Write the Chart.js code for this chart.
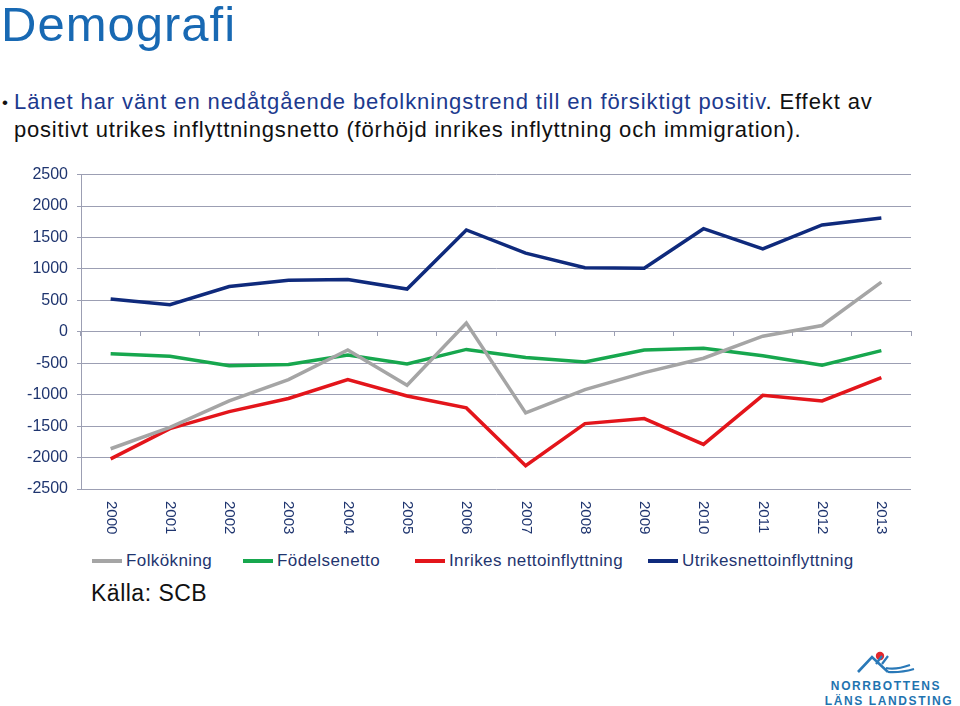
<!DOCTYPE html>
<html>
<head>
<meta charset="utf-8">
<script src="https://cdn.jsdelivr.net/npm/chart.js@4/dist/chart.umd.min.js"></script>
<style>
  html, body { margin: 0; padding: 0; background: #fff; }
  body { width: 960px; height: 706px; position: relative; overflow: hidden; font-family: Arial, "Liberation Sans", sans-serif; }
  #title { position: absolute; left: 1px; top: -4px; font-size: 49px; color: #1869b3; letter-spacing: 1px; }
  .bullet { position: absolute; left: 14px; font-size: 22px; line-height: 26px; letter-spacing: 0.8px; color: #111; white-space: nowrap; }
  .blue { color: #1c3a8e; }
  #dot { position: absolute; left: 2px; top: 93px; font-size: 17px; color: #111; }
  #chartBox { position: absolute; left: 0; top: 156px; width: 960px; height: 384px; }
  #legend { position: absolute; top: 551px; left: 0; width: 960px; height: 20px; font-size: 17px; letter-spacing: 0.4px; color: #1f356f; }
  .leg { position: absolute; display: flex; align-items: center; white-space: nowrap; }
  .leg i { display: inline-block; width: 30px; height: 4px; margin-right: 4px; }
  #source { position: absolute; left: 91px; top: 580px; font-size: 23px; letter-spacing: 0.5px; color: #111; }
</style>
</head>
<body>
<div id="title">Demografi</div>
<div id="dot">•</div>
<div class="bullet" style="top:89px; letter-spacing: 0.9px"><span class="blue">Länet har vänt en nedåtgående befolkningstrend till en försiktigt positiv</span>. Effekt av</div>
<div class="bullet" style="top:117px">positivt utrikes inflyttningsnetto (förhöjd inrikes inflyttning och immigration).</div>

<div id="chartBox"><canvas id="chart"></canvas></div>
<div id="legend"></div>
<div id="source">Källa: SCB</div>

<svg style="position:absolute;left:810px;top:644px" width="150" height="62" viewBox="0 0 150 62">
  <circle cx="70" cy="12" r="4.2" fill="#e3262c"/>
  <path d="M48 28 L62 13 L78 28" fill="none" stroke="#2a79b8" stroke-width="2.6"/>
  <path d="M66 20 L72 12 M72 20 L78 12 M76 24 Q86 26 100 21 M78 28 Q90 29 104 25" fill="none" stroke="#2a79b8" stroke-width="2.2"/>
  <text x="76" y="45.5" text-anchor="middle" font-family="Arial, sans-serif" font-weight="bold" font-size="12" letter-spacing="1.6" fill="#1f74b0">NORRBOTTENS</text>
  <text x="79" y="61" text-anchor="middle" font-family="Arial, sans-serif" font-weight="bold" font-size="12" letter-spacing="1.6" fill="#1f74b0">LÄNS LANDSTING</text>
</svg>

<script>
// år och serier
const years = ['2000','2001','2002','2003','2004','2005','2006','2007','2008','2009','2010','2011','2012','2013'];
const folkokning   = [-1860, -1520, -1100, -760, -290, -850, 140, -1290, -920, -650, -420, -70, 100, 790];
const fodelsenetto = [-350, -390, -540, -520, -370, -510, -280, -410, -480, -290, -260, -380, -530, -300];
const inrikesNetto = [-2020, -1540, -1270, -1060, -760, -1020, -1210, -2130, -1460, -1380, -1790, -1010, -1100, -730];
const utrikesNetto = [520, 430, 720, 820, 830, 680, 1620, 1250, 1020, 1010, 1640, 1320, 1700, 1810];
const yTicks = [2500, 2000, 1500, 1000, 500, 0, -500, -1000, -1500, -2000, -2500];

const seriesNames  = ['Folkökning', 'Födelsenetto', 'Inrikes nettoinflyttning', 'Utrikesnettoinflyttning'];
const seriesColors = ['#a5a5a5', '#17a74e', '#e3151b', '#0f2a7c'];
const legendLeft   = [92, 243, 415, 648];

const textColor = '#1f356f';
const gridColor = '#9c9fb3';

// roterade årsetiketter (läses uppifrån och ned)
const yearLabels = {
  id: 'yearLabels',
  afterDraw(chart) {
    const ctx = chart.ctx;
    const xs = chart.scales.x;
    const top = chart.chartArea.bottom + 12;
    ctx.save();
    ctx.fillStyle = textColor;
    ctx.font = '15px Arial, "Liberation Sans", sans-serif';
    ctx.textAlign = 'left';
    ctx.textBaseline = 'middle';
    years.forEach((y, i) => {
      ctx.save();
      ctx.translate(xs.getPixelForValue(i), top);
      ctx.rotate(Math.PI / 2);
      ctx.fillText(y, 0, 0);
      ctx.restore();
    });
    ctx.restore();
  }
};

const data = [folkokning, fodelsenetto, inrikesNetto, utrikesNetto];

new Chart(document.getElementById('chart'), {
  type: 'line',
  data: {
    labels: years,
    datasets: data.map((d, i) => ({
      label: seriesNames[i],
      data: d,
      borderColor: seriesColors[i],
      backgroundColor: seriesColors[i],
      borderWidth: 3.5,
      pointRadius: 0,
      tension: 0,
      fill: false
    }))
  },
  options: {
    responsive: true,
    maintainAspectRatio: false,
    animation: false,
    layout: { padding: { top: 14, right: 49, bottom: 51, left: 0 } },
    plugins: { legend: { display: false }, tooltip: { enabled: false } },
    scales: {
      x: {
        type: 'category',
        offset: true,
        position: { y: 0 },
        grid: { display: true, drawOnChartArea: false, drawTicks: true, tickLength: 4, offset: true, color: gridColor },
        border: { display: true, color: gridColor, width: 1 },
        ticks: { display: false }
      },
      y: {
        min: -2500,
        max: 2500,
        afterFit(scale) { scale.width = 81; },
        afterBuildTicks(scale) { scale.ticks = yTicks.map(v => ({ value: v })); },
        grid: { color: gridColor, lineWidth: 1, tickLength: 4, drawTicks: true },
        border: { display: true, color: gridColor },
        ticks: {
          color: textColor,
          padding: 9,
          font: { size: 16, family: 'Arial, "Liberation Sans", sans-serif' },
          callback: v => String(v)
        }
      }
    }
  },
  plugins: [yearLabels]
});

// förklaring
const legend = document.getElementById('legend');
seriesNames.forEach((name, i) => {
  const el = document.createElement('div');
  el.className = 'leg';
  el.style.left = legendLeft[i] + 'px';
  el.innerHTML = `<i style="background:${seriesColors[i]}"></i><span>${name}</span>`;
  legend.appendChild(el);
});
</script>
</body>
</html>
